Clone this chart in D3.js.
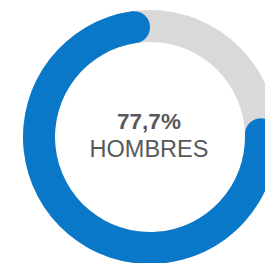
<!DOCTYPE html>
<html>
<head>
<meta charset="utf-8">
<script src="https://cdn.jsdelivr.net/npm/d3@7"></script>
<style>
html,body{margin:0;padding:0;background:#fff;overflow:hidden;}
svg{display:block;}
</style>
</head>
<body>
<script>
const categories = ["Hombres", "Mujeres"];
const values = [77.7, 22.3];
const valueLabel = "77,7%";
const categoryLabel = "HOMBRES";

const W = 265, H = 263;
const cx = 150, cy = 137, R = 127, r = 95;

const svg = d3.select("body").append("svg").attr("width", W).attr("height", H);
const g = svg.append("g").attr("transform", `translate(${cx},${cy})`);

const total = d3.sum(values);
const angle = d3.scaleLinear().domain([0, total]).range([0, 2 * Math.PI]);

// background ring
g.append("path")
  .attr("d", d3.arc().innerRadius(r).outerRadius(R).startAngle(0).endAngle(2 * Math.PI)())
  .attr("fill", "#d9d9d9");

// main arc: ends at top, goes counter-clockwise
g.append("path")
  .attr("d", d3.arc().innerRadius(r).outerRadius(R).cornerRadius((R - r) / 2)
    .startAngle(2 * Math.PI - angle(values[0])).endAngle(2 * Math.PI)())
  .attr("fill", "#0a78c8");

g.append("text")
  .attr("x", -1).attr("y", -8.3)
  .attr("text-anchor", "middle")
  .attr("font-family", "Liberation Sans, Arial, sans-serif")
  .attr("font-weight", "bold")
  .attr("font-size", 22.5)
  .attr("fill", "#595959")
  .text(valueLabel);

g.append("text")
  .attr("x", -1).attr("y", 19.7)
  .attr("text-anchor", "middle")
  .attr("font-family", "Liberation Sans, Arial, sans-serif")
  .attr("font-size", 23.5)
  .attr("fill", "#595959")
  .text(categoryLabel);
</script>
</body>
</html>
